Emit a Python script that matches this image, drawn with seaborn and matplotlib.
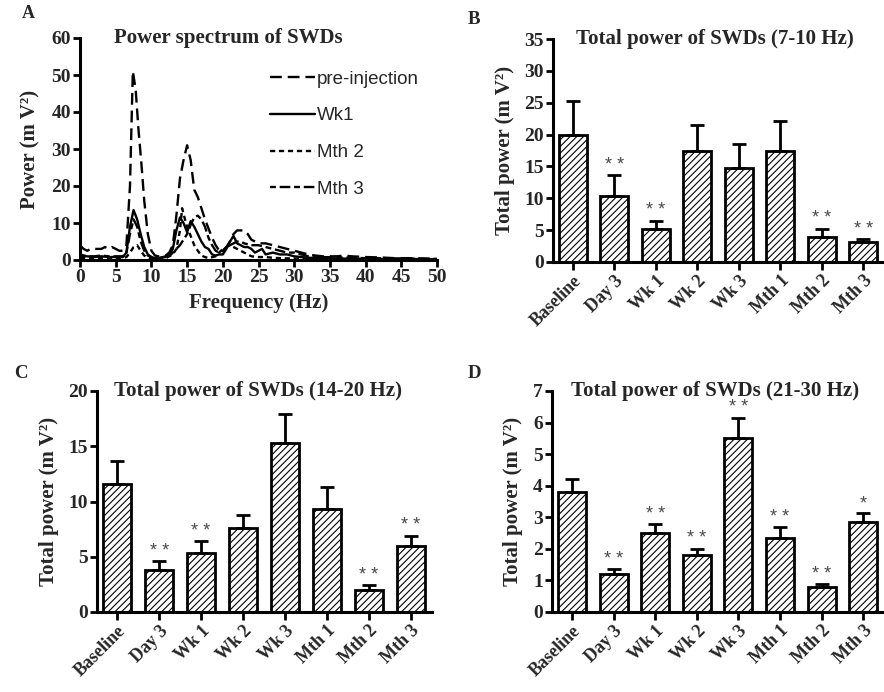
import numpy as np
import pandas as pd
import matplotlib
matplotlib.use("Agg")
import matplotlib.pyplot as plt
import seaborn as sns

# ---------------- data ----------------
# Panel A: power spectra (Hz, mV^2)
pre_f = [0, 0.5, 1, 1.5, 2, 2.5, 3, 3.5, 4, 4.5, 5, 5.5, 6, 6.5, 7, 7.4, 7.8, 8.2, 8.6, 9, 9.5, 10,
         10.5, 11, 11.5, 12, 12.5, 13, 13.5, 14, 14.5, 15, 15.5, 16, 16.5, 17, 17.5, 18, 18.5, 19, 19.5, 20,
         20.5, 21, 21.5, 22, 22.5, 23, 23.5, 24, 24.5, 25, 25.5, 26, 27, 28, 29, 30, 31, 32, 33, 34, 35,
         36, 37, 38, 40, 42, 44, 46, 48, 50]
pre_p = [4, 3, 2.5, 3, 3, 3, 3, 3.5, 3, 3.5, 3, 2.5, 2.5, 4, 20, 51, 46, 35, 26, 16, 7, 2.5,
         1.2, 1, 1, 1.2, 2, 4, 12, 22, 27, 31, 27, 19, 17, 14, 11, 8.5, 6, 4, 2.5, 2.5,
         3.5, 5, 7, 8, 8, 8, 7, 5.5, 5, 4.5, 4.5, 4.5, 4, 3.5, 3, 2.5, 2, 1.5, 1.2, 1, 1,
         1, 1.2, 1, 0.8, 0.7, 0.5, 0.5, 0.4, 0.3]

wk1_f = [0, 1, 2, 3, 4, 5, 6, 6.5, 7, 7.5, 8, 8.5, 9, 9.5, 10, 10.5, 11, 12, 12.5, 13, 13.5, 14, 14.5, 15,
         15.5, 16, 16.5, 17, 17.5, 18, 18.5, 19, 19.5, 20, 20.5, 21, 21.5, 22, 22.5, 23, 23.5, 24, 24.5, 25,
         25.5, 26, 27, 28, 29, 30, 32, 34, 36, 40, 45, 50]
wk1_p = [1, 1, 0.8, 1, 0.8, 0.8, 0.8, 2, 9, 13.5, 11, 7, 3.5, 1.5, 0.8, 0.5, 0.5, 1, 1.5, 3, 8, 11.5, 10, 7.5,
         10.5, 9, 7, 5, 3.5, 3, 1.5, 1.2, 1.5, 1.5, 3, 5, 6.5, 4.5, 4, 3.5, 3.5, 3, 2, 2.5,
         3, 1.5, 2, 1.5, 1.5, 1, 0.6, 0.5, 0.4, 0.3, 0.3, 0.2]

mth2_f = [0, 1, 2, 3, 4, 5, 6, 6.5, 7, 7.5, 8, 8.5, 9, 9.5, 10, 11, 12, 12.5, 13, 13.5, 14, 14.3, 14.7, 15,
          15.5, 16, 16.5, 17, 17.5, 18, 19, 19.5, 20, 20.5, 21, 21.5, 22, 22.5, 23, 23.5, 24,
          25, 26, 27, 28, 30, 32, 35, 40, 45, 50]
mth2_p = [0.5, 0.5, 0.4, 0.5, 0.5, 0.4, 0.5, 0.8, 2, 3.5, 4, 2.5, 1.2, 0.6, 0.3, 0.2, 0.5, 1, 1.5, 3, 8, 14, 11, 9,
          6.5, 4, 2.5, 1.2, 0.8, 0.5, 1, 2, 3, 3.5, 4, 3.5, 3, 2.5, 2, 1.5, 1,
          0.8, 0.8, 0.6, 0.5, 0.4, 0.3, 0.3, 0.2, 0.2, 0.1]

mth3_f = [0, 1, 2, 3, 4, 5, 6, 6.5, 7, 7.5, 8, 8.5, 9, 9.5, 10, 10.5, 11, 12, 12.5, 13, 13.5, 14, 14.5, 15,
          15.5, 16, 16.5, 17, 17.5, 18, 18.5, 19, 19.5, 20, 20.5, 21, 21.5, 22, 22.5, 23, 24, 25, 26, 27,
          28, 29, 30, 31, 32, 34, 36, 40, 45, 50]
mth3_p = [1.5, 1, 1, 1.2, 1, 1, 1, 2, 7, 11, 9, 5, 2.5, 1.2, 0.8, 0.5, 0.5, 0.8, 1, 2, 3, 4, 5.5, 7,
          9.5, 11.5, 12, 11, 9, 6, 4, 2.5, 2, 2.5, 3.5, 4, 4.5, 5, 5, 4.5, 4, 4, 3.5, 3,
          2.5, 2, 2, 1.5, 1, 0.8, 0.7, 0.5, 0.4, 0.3]

# Panels B-D: bar charts
categories = ['Baseline', 'Day 3', 'Wk 1', 'Wk 2', 'Wk 3', 'Mth 1', 'Mth 2', 'Mth 3']

b_mean = [20.0, 10.3, 5.2, 17.5, 14.8, 17.5, 4.0, 3.1]
b_sem = [5.2, 3.3, 1.3, 4.0, 3.7, 4.7, 1.2, 0.5]
b_sig = ['', '**', '**', '', '', '', '**', '**']

c_mean = [11.6, 3.8, 5.3, 7.6, 15.3, 9.3, 2.0, 6.0]
c_sem = [2.1, 0.8, 1.1, 1.2, 2.6, 2.0, 0.4, 0.9]
c_sig = ['', '**', '**', '', '', '', '**', '**']

d_mean = [3.8, 1.2, 2.5, 1.8, 5.5, 2.35, 0.78, 2.85]
d_sem = [0.4, 0.15, 0.28, 0.2, 0.65, 0.33, 0.1, 0.27]
d_sig = ['', '**', '**', '**', '**', '**', '**', '*']

# ---------------- style ----------------
sns.set_theme(style='ticks')
SERIF = 'Liberation Serif'
plt.rcParams['font.family'] = [SERIF, 'DejaVu Serif']
plt.rcParams['font.weight'] = 'bold'
plt.rcParams['hatch.linewidth'] = 0.8
plt.rcParams['axes.linewidth'] = 2.2

fig = plt.figure(figsize=(8.84, 6.92), dpi=100)

YTICK_FS = 14
XTICK_FS = 13
TITLE_FS = 15
LABEL_FS = 15


def style_axes(ax):
    sns.despine(ax=ax)
    for s in ['left', 'bottom']:
        ax.spines[s].set_linewidth(2.2)
        ax.spines[s].set_color('black')
    ax.tick_params(axis='both', width=2.0, length=5, color='black', pad=1.5)
    ax.tick_params(axis='y', labelsize=YTICK_FS)
    ax.tick_params(axis='x', labelsize=YTICK_FS)
    for lab in ax.get_xticklabels() + ax.get_yticklabels():
        lab.set_fontweight('bold')
        lab.set_family(SERIF)


# ---------------- Panel A ----------------
axA = fig.add_axes([80 / 884, 1 - 260 / 692, 357 / 884, 222 / 692])
series = [
    (pre_f, pre_p, 'pre-injection', (5, 2.5)),
    (wk1_f, wk1_p, 'Wk1', None),
    (mth2_f, mth2_p, 'Mth 2', (2.2, 1.6)),
    (mth3_f, mth3_p, 'Mth 3', (2.5, 1.6, 4.5, 1.6)),
]
for f, p, name, dash in series:
    df = pd.DataFrame({'Frequency': f, 'Power': p})
    kw = dict(color='black', linewidth=1.7, label=name)
    if dash is None:
        kw['linestyle'] = '-'
    else:
        kw['dashes'] = dash
    sns.lineplot(data=df, x='Frequency', y='Power', ax=axA, **kw)

axA.set_xlim(0, 50)
axA.set_ylim(0, 60)
axA.set_xticks(np.arange(0, 51, 5))
axA.set_yticks(np.arange(0, 61, 10))
axA.set_xlabel('Frequency (Hz)', fontsize=LABEL_FS, fontweight='bold', labelpad=5)
axA.set_ylabel('Power (m V²)', fontsize=LABEL_FS, fontweight='bold', labelpad=8)
style_axes(axA)
axA.text(0.415, 1.0, 'Power spectrum of SWDs', transform=axA.transAxes, ha='center', va='center',
         fontsize=TITLE_FS, fontweight='bold')
leg = axA.legend(loc='upper left', bbox_to_anchor=(0.485, 0.93), frameon=False, handlelength=2.4,
                 handletextpad=0.1, labelspacing=1.05, prop={'family': 'Liberation Sans', 'size': 13.5,
                                                             'weight': 'normal'})
fig.text(22 / 884, 1 - 14 / 692, 'A', fontsize=13, fontweight='bold', va='center', ha='left')


# ---------------- bar panels ----------------
def bar_panel(rect, mean, sem, sig, ymax, ystep, title, title_x, letter, letter_xy):
    ax = fig.add_axes(rect)
    df = pd.DataFrame({'cat': categories, 'val': mean})
    sns.barplot(data=df, x='cat', y='val', ax=ax, color='white', edgecolor='black', linewidth=2.0,
                width=0.67, errorbar=None, saturation=1)
    for patch in ax.patches:
        patch.set_hatch('/////')
        patch.set_facecolor('white')
        patch.set_edgecolor('black')
    xs = np.arange(len(categories))
    ax.errorbar(xs, mean, yerr=[np.zeros(len(mean)), sem], fmt='none', ecolor='black',
                elinewidth=2.0, capsize=5, capthick=2.0, zorder=5)
    for x, m, s, t in zip(xs, mean, sem, sig):
        if t:
            ax.annotate(' '.join(t), (x, m + s), xytext=(0, 1), textcoords='offset points',
                        ha='center', va='bottom', fontsize=13, color='#4a4a4a',
                        family='Liberation Sans', fontweight='normal')
    ax.set_ylim(0, ymax)
    ax.set_yticks(np.arange(0, ymax + 0.01, ystep))
    ax.set_xlim(-0.48, 7.5)
    ax.set_xlabel('')
    ax.set_ylabel('Total power (m V²)', fontsize=LABEL_FS, fontweight='bold', labelpad=7)
    style_axes(ax)
    ax.tick_params(axis='x', length=6)
    ax.set_xticks(xs)
    ax.set_xticklabels(categories, rotation=45, ha='right', rotation_mode='anchor',
                       fontsize=XTICK_FS, fontweight='bold', family=SERIF)
    ax.spines['bottom'].set_bounds(-0.48, 7.5)
    ax.text(title_x, 1.0, title, transform=ax.transAxes, ha='center', va='center',
            fontsize=TITLE_FS, fontweight='bold')
    fig.text(letter_xy[0] / 884, 1 - letter_xy[1] / 692, letter, fontsize=13.5, fontweight='bold',
             va='center', ha='left')
    return ax


bar_panel([553 / 884, 1 - 262 / 692, 331 / 884, 223 / 692], b_mean, b_sem, b_sig, 35, 5,
          'Total power of SWDs (7-10 Hz)', 0.49, 'B', (468, 19))
bar_panel([97 / 884, 1 - 612 / 692, 335 / 884, 221 / 692], c_mean, c_sem, c_sig, 20, 5,
          'Total power of SWDs (14-20 Hz)', 0.48, 'C', (14, 373))
bar_panel([552 / 884, 1 - 612 / 692, 332 / 884, 221 / 692], d_mean, d_sem, d_sig, 7, 1,
          'Total power of SWDs (21-30 Hz)', 0.49, 'D', (468, 373))

fig.savefig('out.png', dpi=100, facecolor='white')
